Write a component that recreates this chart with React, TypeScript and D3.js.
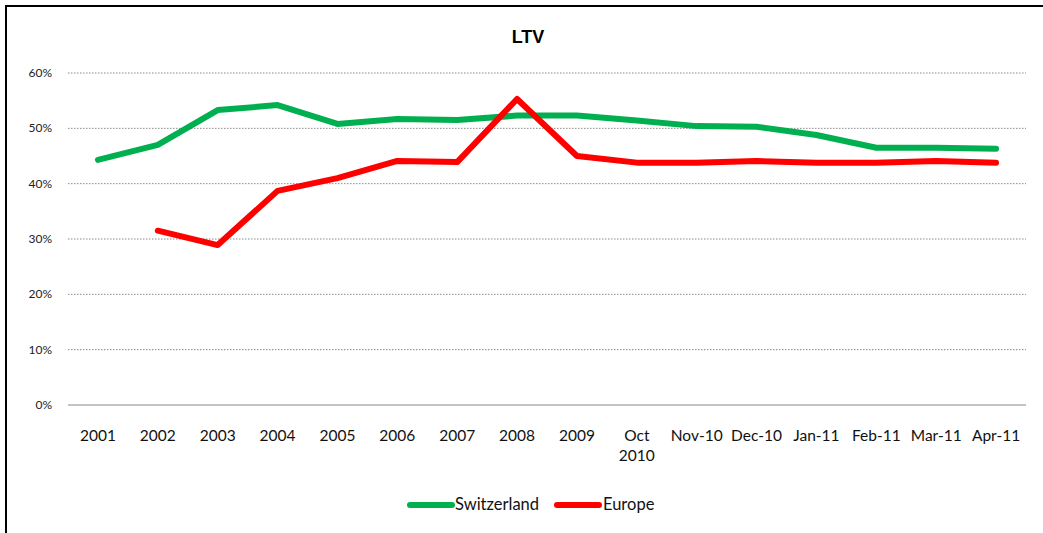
import React from "react";
import * as d3 from "d3";

const categories = ["2001","2002","2003","2004","2005","2006","2007","2008","2009","Oct\n2010","Nov-10","Dec-10","Jan-11","Feb-11","Mar-11","Apr-11"];
const switzerland: (number|null)[] = [44.3,47.0,53.3,54.2,50.8,51.7,51.5,52.3,52.3,51.4,50.4,50.3,48.8,46.5,46.5,46.3];
const europe: (number|null)[] = [null,31.5,28.9,38.7,41.0,44.1,43.9,55.3,45.0,43.8,43.8,44.1,43.8,43.8,44.1,43.8];
const yTicks = [0,10,20,30,40,50,60];

const W = 1043, H = 533;
const left = 68, right = 1026, top = 73, bottom = 405;

export default function App() {
  const x = d3.scaleBand<string>().domain(categories).range([left, right]);
  const y = d3.scaleLinear().domain([0, 60]).range([bottom, top]);
  const cx = (c: string) => (x(c) as number) + x.bandwidth() / 2;
  const mk = (vals: (number|null)[]) =>
    d3.line<number|null>()
      .defined(d => d != null)
      .x((_, i) => cx(categories[i]))
      .y(d => y(d as number))(vals) as string;
  const font = "Lato, sans-serif";
  return (
    <svg width={W} height={H} style={{ position: "absolute", left: 0, top: 0, background: "#fff" }}>
      <rect x={6} y={6} width={1100} height={600} fill="#fff" stroke="#000" strokeWidth={2} />
      <text x={528} y={43} textAnchor="middle" fontFamily="Arial, 'Liberation Sans', sans-serif" fontWeight="bold" fontSize={18}>LTV</text>
      {yTicks.map(t => (
        <g key={t}>
          <line x1={left} x2={right} y1={y(t)} y2={y(t)} stroke="#888" strokeWidth={1} strokeDasharray={t === 0 ? undefined : "1.5,1.5"} />
          <text x={52} y={y(t) + 4} textAnchor="end" fontFamily={font} fontSize={12} fill="#222">{t}%</text>
        </g>
      ))}
      {categories.map(c => {
        const lines = c.split("\n");
        return (
          <text key={c} x={cx(c)} y={441} textAnchor="middle" fontFamily={font} fontSize={15.5} fill="#111">
            {lines.map((l, i) => <tspan key={i} x={cx(c)} dy={i === 0 ? 0 : 20}>{l}</tspan>)}
          </text>
        );
      })}
      <path d={mk(switzerland)} fill="none" stroke="#00b050" strokeWidth={6} strokeLinejoin="round" strokeLinecap="round" />
      <path d={mk(europe)} fill="none" stroke="#ff0000" strokeWidth={6} strokeLinejoin="round" strokeLinecap="round" />
      <line x1={410} x2={452} y1={505} y2={505} stroke="#00b050" strokeWidth={6} strokeLinecap="round" />
      <text x={455} y={510} fontFamily={font} fontSize={16.5} fill="#111">Switzerland</text>
      <line x1={557} x2={599} y1={505} y2={505} stroke="#ff0000" strokeWidth={6} strokeLinecap="round" />
      <text x={603} y={510} fontFamily={font} fontSize={16.5} fill="#111">Europe</text>
    </svg>
  );
}
